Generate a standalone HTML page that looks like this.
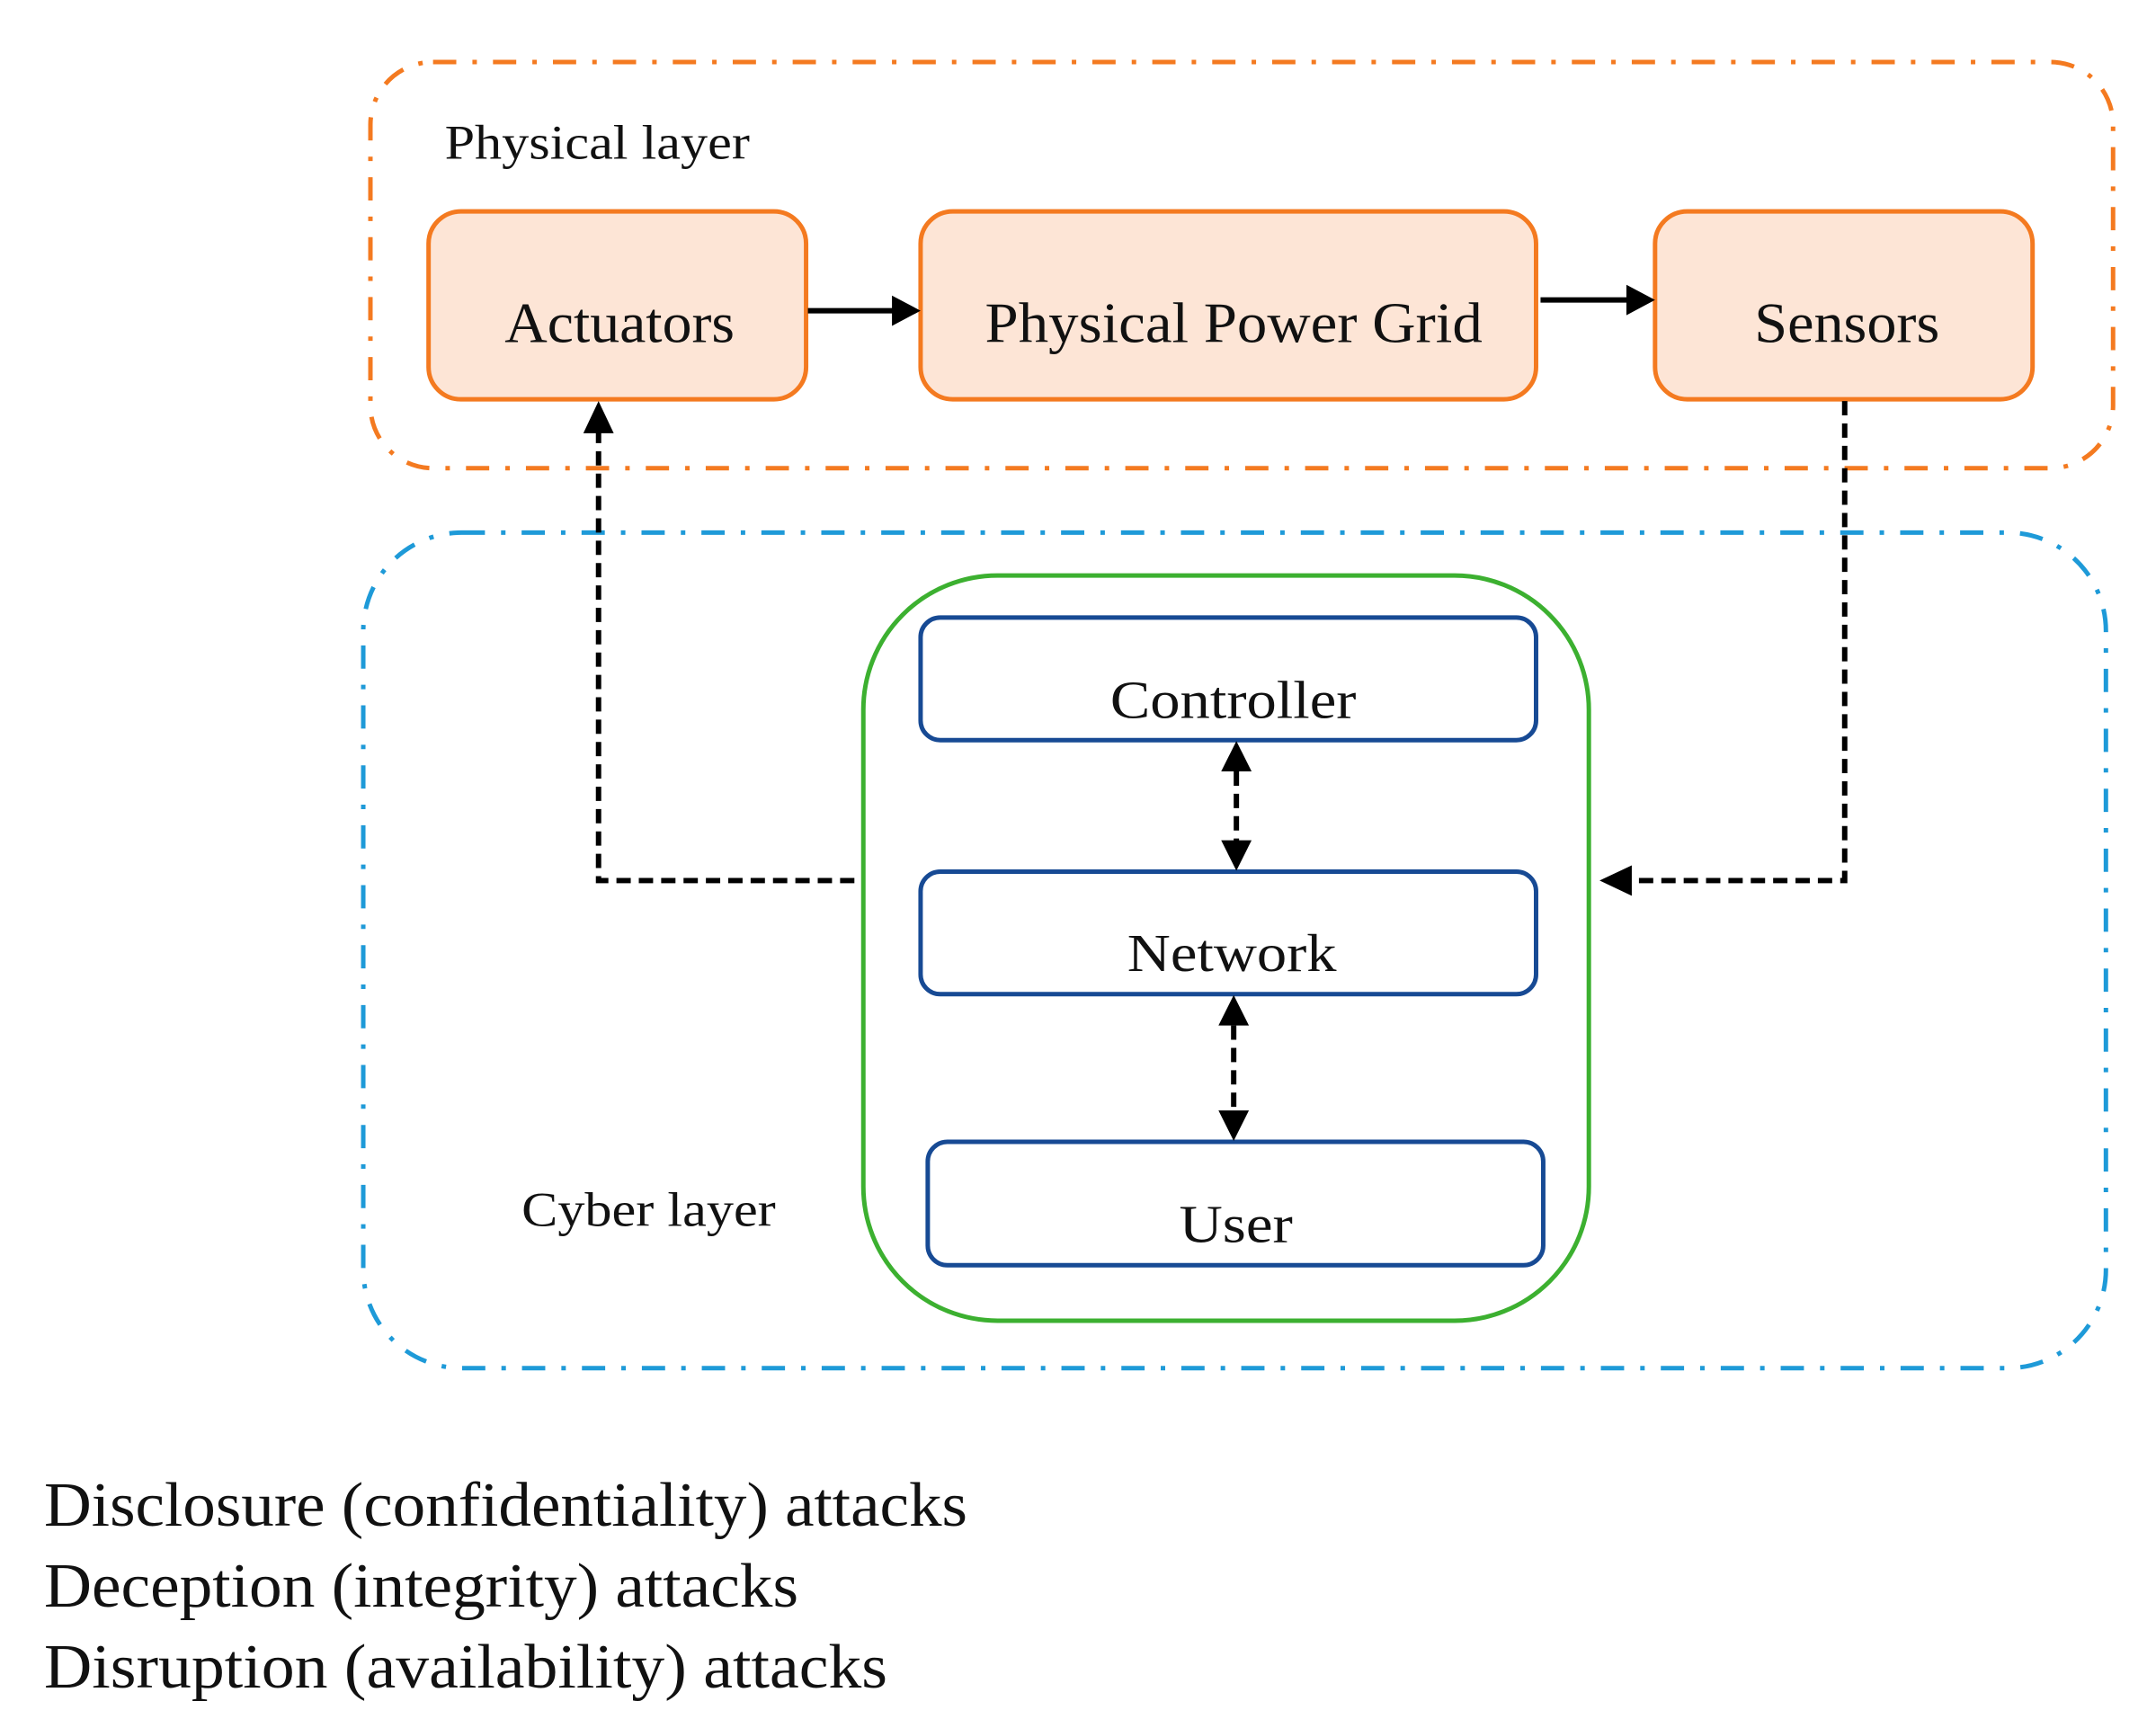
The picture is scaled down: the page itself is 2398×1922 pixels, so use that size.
<!DOCTYPE html>
<html><head><meta charset="utf-8"><style>
html,body{margin:0;padding:0;background:#fff;}
svg{display:block;}
text{font-family:"Liberation Serif",serif;fill:#111;}
</style></head><body>
<svg width="2398" height="1922" viewBox="0 0 2398 1922" xmlns="http://www.w3.org/2000/svg">
<g transform="translate(412,69) scale(0.995) translate(-412,-69)">
<!-- layer boxes -->
<rect x="412" y="69" width="1948" height="454" rx="70" fill="none" stroke="#f47a20" stroke-width="5" stroke-dasharray="26 18 5 18"/>
<rect x="404" y="595" width="1948" height="934" rx="110" fill="none" stroke="#1e9ad8" stroke-width="5" stroke-dasharray="26 18 5 18"/>
<text x="495" y="177" font-size="54" textLength="341" lengthAdjust="spacingAndGlyphs">Physical layer</text>
<text x="581" y="1370" font-size="54" textLength="284" lengthAdjust="spacingAndGlyphs">Cyber layer</text>
<!-- physical boxes -->
<rect x="477" y="236" width="422" height="210" rx="36" fill="#fde5d6" stroke="#f47a20" stroke-width="5"/>
<rect x="1027" y="236" width="688" height="210" rx="36" fill="#fde5d6" stroke="#f47a20" stroke-width="5"/>
<rect x="1848" y="236" width="422" height="210" rx="36" fill="#fde5d6" stroke="#f47a20" stroke-width="5"/>
<text x="562" y="382" font-size="64" textLength="257" lengthAdjust="spacingAndGlyphs">Actuators</text>
<text x="1099" y="382" font-size="64" textLength="556" lengthAdjust="spacingAndGlyphs">Physical Power Grid</text>
<text x="1959" y="382" font-size="64" textLength="207" lengthAdjust="spacingAndGlyphs">Sensors</text>
<!-- solid arrows -->
<line x1="901" y1="347" x2="1000" y2="347" stroke="#000" stroke-width="6"/>
<polygon points="1027,347 995,330 995,364" fill="#000"/>
<line x1="1720" y1="335" x2="1820" y2="335" stroke="#000" stroke-width="6"/>
<polygon points="1848,335 1816,318 1816,352" fill="#000"/>
<!-- green container -->
<rect x="963" y="643" width="811" height="833" rx="150" fill="none" stroke="#3cb030" stroke-width="5"/>
<rect x="1027" y="690" width="688" height="137" rx="22" fill="#fff" stroke="#174a94" stroke-width="5"/>
<rect x="1027" y="974" width="688" height="137" rx="22" fill="#fff" stroke="#174a94" stroke-width="5"/>
<rect x="1035" y="1276" width="688" height="138" rx="22" fill="#fff" stroke="#174a94" stroke-width="5"/>
<text x="1239" y="802" font-size="60" textLength="275" lengthAdjust="spacingAndGlyphs">Controller</text>
<text x="1258" y="1085" font-size="60" textLength="234" lengthAdjust="spacingAndGlyphs">Network</text>
<text x="1316" y="1388" font-size="60" textLength="127" lengthAdjust="spacingAndGlyphs">User</text>
<!-- dashed connectors -->
<g stroke="#000" stroke-width="6" fill="none" stroke-dasharray="16 9">
<polyline points="953,984 667,984 667,482"/>
<polyline points="2060,448 2060,984 1820,984"/>
<line x1="1380" y1="862" x2="1380" y2="940"/>
<line x1="1377" y1="1146" x2="1377" y2="1242"/>
</g>
<polygon points="667,448 650,484 684,484" fill="#000"/>
<polygon points="1786,984 1822,967 1822,1001" fill="#000"/>
<polygon points="1380,828 1363,862 1397,862" fill="#000"/>
<polygon points="1380,973 1363,939 1397,939" fill="#000"/>
<polygon points="1377,1112 1360,1146 1394,1146" fill="#000"/>
<polygon points="1377,1275 1360,1241 1394,1241" fill="#000"/>
</g>
<!-- bottom text -->
<text x="49" y="1697" font-size="70" textLength="1027" lengthAdjust="spacingAndGlyphs">Disclosure (confidentiality) attacks</text>
<text x="49" y="1787" font-size="70" textLength="839" lengthAdjust="spacingAndGlyphs">Deception (integrity) attacks</text>
<text x="49" y="1877" font-size="70" textLength="938" lengthAdjust="spacingAndGlyphs">Disruption (availability) attacks</text>
</svg>
</body></html>
